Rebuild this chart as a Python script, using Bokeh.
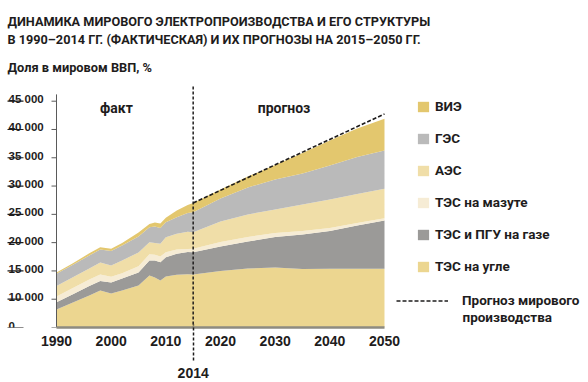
from bokeh.plotting import figure
from bokeh.models import (ColumnDataSource, Legend, LegendItem, Label, LinearAxis,
                          FixedTicker, Range1d)
from bokeh.core.properties import value
from bokeh.embed import file_html
from bokeh.resources import INLINE

# ---------------- data (TWh) ----------------
years = [1990, 1993, 1996, 1998, 2000, 2002, 2005, 2007, 2008, 2009, 2010, 2012, 2014,
         2015, 2020, 2025, 2030, 2035, 2040, 2045, 2050]
coal = [8180, 9420, 10660, 11540, 11010, 11540, 12420, 14190, 13840, 13310, 14010, 14320, 14420,
        14370, 14990, 15430, 15610, 15340, 15380, 15380, 15380]
gas = [1290, 1470, 1680, 1680, 1940, 2120, 2300, 2650, 3000, 3240, 3410, 3710, 3920,
       3940, 4330, 4770, 5390, 6100, 6680, 7650, 8540]
oil = [1010, 1100, 1150, 1150, 1000, 950, 1100, 1100, 1000, 1000, 900, 750, 550,
       600, 800, 800, 710, 620, 530, 440, 400]
nuclear = [1860, 1910, 1940, 2120, 2000, 2230, 2440, 2130, 2090, 2260, 2630, 2790, 3020,
           2930, 3620, 3980, 4150, 4680, 5040, 5130, 5200]
hydro = [2160, 2190, 2300, 2300, 2560, 2650, 2830, 2650, 2920, 2790, 2650, 2930, 3320,
         3540, 4065, 4770, 5300, 5480, 6010, 6540, 6770]
renew = [230, 265, 390, 410, 390, 440, 710, 570, 710, 800, 780, 1190, 1410,
         1630, 1590, 1940, 2560, 3620, 4420, 5040, 5600]

forecast_years = [2015, 2050]
forecast_total = [27000, 42750]

series_keys = ["coal", "gas", "oil", "nuclear", "hydro", "renew"]
series_names = ["ТЭС на угле", "ТЭС и ПГУ на газе", "ТЭС на мазуте", "АЭС", "ГЭС", "ВИЭ"]
series_colors = ["#ecd690", "#9b9a98", "#f6ecd5", "#f0dea8", "#bababa", "#e3c76e"]

x_ticks = [1990, 2000, 2010, 2020, 2030, 2040, 2050]
y_ticks = [5000, 10000, 15000, 20000, 25000, 30000, 35000, 40000, 45000]
y_tick_labels = ["0", "10 000", "15 000", "20 000", "25 000", "30 000", "35 000", "40 000", "45 000"]
divider_year = 2015
divider_label = "2014"

title_lines = ["ДИНАМИКА МИРОВОГО ЭЛЕКТРОПРОИЗВОДСТВА И ЕГО СТРУКТУРЫ",
               "В 1990–2014 ГГ. (ФАКТИЧЕСКАЯ) И ИХ ПРОГНОЗЫ НА 2015–2050 ГГ."]
subtitle = "Доля в мировом ВВП, %"

# ---------------- layout constants ----------------
W, H = 588, 382
AXIS_H = 55
FRAME_H = H - AXIS_H
X_LEFT_PX, X_RIGHT_PX = 56, 384          # pixel positions of 1990 / 2050
PX_PER_YR = (X_RIGHT_PX - X_LEFT_PX) / (2050 - 1990)
X0 = 1990 - X_LEFT_PX / PX_PER_YR
X1 = X0 + W / PX_PER_YR
VAL_PER_PX = 176.75
Y0 = 5000
Y1 = Y0 + FRAME_H * VAL_PER_PX


def dx(px):   # pixel x -> data x
    return X0 + px / PX_PER_YR


def dy(py):   # pixel y (from top) -> data y
    return Y0 + (FRAME_H - py) * VAL_PER_PX


FONT = "Roboto"
SANS = "Liberation Sans"
INK = "#1e1c1c"

p = figure(width=W, height=H, output_backend="svg", toolbar_location=None,
           x_range=Range1d(X0, X1), y_range=Range1d(Y0, Y1),
           y_axis_location=None, min_border_left=0, min_border_right=0,
           min_border_top=0, min_border_bottom=AXIS_H)
p.outline_line_color = None
p.grid.visible = False
p.background_fill_color = "white"

src = ColumnDataSource(dict(year=years, coal=coal, gas=gas, oil=oil,
                            nuclear=nuclear, hydro=hydro, renew=renew))
areas = p.varea_stack(stackers=series_keys, x="year", color=series_colors, source=src)

fline = p.line(forecast_years, forecast_total, line_color=INK, line_width=1.6,
               line_dash="4 2")

# x axis
xa = p.xaxis[0]
xa.ticker = FixedTicker(ticks=x_ticks)
xa.bounds = (1990, 2050)
xa.axis_line_color = "#8e8b80"
xa.axis_line_width = 2.5
xa.major_tick_line_color = None
xa.major_tick_in = 0
xa.major_tick_out = 0
xa.minor_tick_line_color = None
xa.minor_tick_in = 0
xa.minor_tick_out = 0
xa.major_label_standoff = 8
xa.major_label_text_font = SANS
xa.major_label_text_font_style = "bold"
xa.major_label_text_font_size = "14px"
xa.major_label_text_color = INK

# second axis below: marks the fact / forecast divider
da = LinearAxis(ticker=FixedTicker(ticks=[divider_year]),
                major_label_overrides={divider_year: divider_label},
                axis_line_color=None, major_tick_in=24, major_tick_out=12,
                major_tick_line_color=INK, major_tick_line_width=1.5,
                major_tick_line_dash="3 2", minor_tick_line_color=None,
                minor_tick_in=0, minor_tick_out=0, major_label_standoff=7,
                major_label_text_font=SANS, major_label_text_font_style="bold",
                major_label_text_font_size="14px", major_label_text_color=INK)
p.add_layout(da, "below")

# divider inside the frame
p.segment(x0=[divider_year], x1=[divider_year], y0=[dy(86)], y1=[Y0],
          line_color=INK, line_width=1.5, line_dash="3 2")

# y axis (drawn inside the frame so its labels can sit left-aligned above the ticks)
p.segment(x0=[1990], x1=[1990], y0=[Y0], y1=[46200], line_color="#5a5a5a", line_width=1)
p.segment(x0=[dx(X_LEFT_PX - 5)] * len(y_ticks), x1=[1990] * len(y_ticks),
          y0=y_ticks, y1=y_ticks, line_color="#5a5a5a", line_width=1)
p.segment(x0=[dx(7)] * len(y_ticks), x1=[dx(23)] * len(y_ticks),
          y0=y_ticks, y1=y_ticks, line_color=INK, line_width=1.2)
p.text(x=[dx(8)] * len(y_ticks), y=y_ticks, text=y_tick_labels, text_font=value(SANS),
       text_font_style="bold", text_font_size="11.5px", text_color=INK,
       text_align="left", text_baseline="alphabetic", y_offset=-2)

# titles
for txt, base in zip(title_lines, [20.7, 39]):
    p.add_layout(Label(x=dx(7), y=dy(base), text=txt, text_font=FONT,
                       text_font_style="bold", text_font_size="12.7px", text_color=INK,
                       text_align="left", text_baseline="alphabetic"))
p.add_layout(Label(x=dx(7), y=dy(66.7), text=subtitle, text_font=FONT,
                   text_font_style="bold", text_font_size="12.8px", text_color=INK,
                   text_align="left", text_baseline="alphabetic"))

# period labels
for txt, cx in [("факт", 116), ("прогноз", 283.5)]:
    p.add_layout(Label(x=dx(cx), y=dy(107), text=txt, text_font=FONT,
                       text_font_style="bold", text_font_size="14px", text_color=INK,
                       text_align="center", text_baseline="middle"))

# legends
items = [LegendItem(label=n, renderers=[r]) for n, r in zip(series_names, areas)][::-1]
leg = Legend(items=items, location=(416, 53), orientation="vertical",
             glyph_width=14, glyph_height=13, label_height=16, label_standoff=5,
             spacing=16, padding=0, margin=0, border_line_color=None,
             background_fill_alpha=0, label_text_font=FONT,
             label_text_font_style="bold", label_text_font_size="13.5px",
             label_text_color=INK)
p.add_layout(leg)
leg2 = Legend(items=[LegendItem(label="Прогноз мирового", renderers=[fline])],
              location=(396, 19), glyph_width=52, glyph_height=13, label_height=16,
              label_standoff=14, padding=0, margin=0, border_line_color=None,
              background_fill_alpha=0, label_text_font=FONT,
              label_text_font_style="bold", label_text_font_size="13.5px",
              label_text_color=INK)
p.add_layout(leg2)
p.add_layout(Label(x=dx(462), y=dy(316), text="производства", text_font=FONT,
                   text_font_style="bold", text_font_size="13.5px", text_color=INK,
                   text_align="left", text_baseline="middle"))

open("out.html", "w").write(file_html(p, INLINE))
